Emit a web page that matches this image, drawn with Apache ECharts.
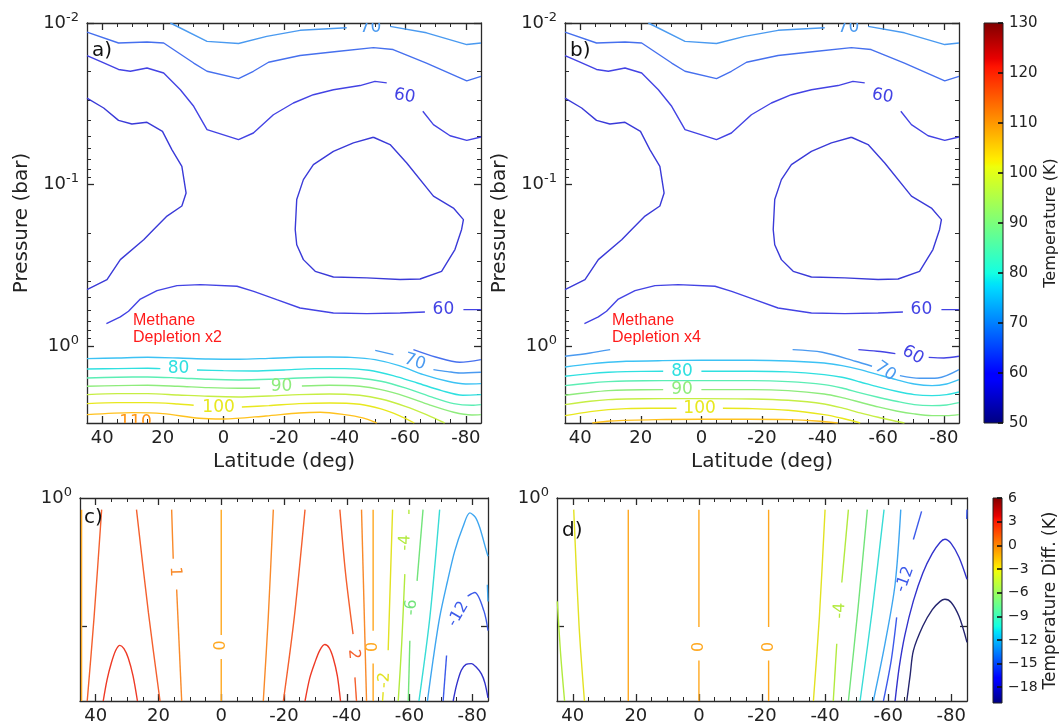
<!DOCTYPE html>
<html>
<head>
<meta charset="utf-8">
<script src="https://cdn.jsdelivr.net/npm/echarts@6/dist/echarts.min.js"></script>
<style>html,body{margin:0;padding:0;background:#fff}#main{width:1064px;height:725px}</style>
</head>
<body>
<div id="main"></div>
<script>
// ---------- axis ticks ----------
const latMajor = [40, 20, 0, -20, -40, -60, -80];
const latMinor = [45, 40, 35, 30, 25, 20, 15, 10, 5, 0, -5, -10, -15, -20, -25, -30, -35, -40, -45, -50, -55, -60, -65, -70, -75, -80, -85];
const presDecades = [0.01, 0.1, 1];
const presMinor = [0.02, 0.03, 0.04, 0.05, 0.06, 0.07, 0.08, 0.09, 0.2, 0.3, 0.4, 0.5, 0.6, 0.7, 0.8, 0.9, 2, 3];
const diffPresLabels = [1];
const diffPresTicks = [2];
const tempBarTicks = [50, 60, 70, 80, 90, 100, 110, 120, 130];
const diffBarTicks = [-18, -15, -12, -9, -6, -3, 0, 3, 6];
const tempRange = [50, 130];
const diffRange = [-20, 6];

// ---------- temperature contours (K), [latitude, pressure bar]; each contour = list of segments ----------
// upper atmosphere, identical in both depletion runs
const upper70 = [
  [[17.5, 0.0100], [5.4, 0.0130], [-5, 0.0134], [-14.3, 0.0121], [-25.3, 0.0111], [-40.7, 0.0107]],
  [[-55, 0.0105], [-67, 0.0115], [-80.3, 0.0136], [-85, 0.0133]]
];
const upper65 = [
  [[45, 0.0114], [34.6, 0.0133], [25.2, 0.0131], [19.7, 0.0133], [9.8, 0.0177], [5.4, 0.0199], [-5, 0.0221], [-9.9, 0.0199], [-14.9, 0.0175], [-25.3, 0.0159], [-37.4, 0.0150], [-49.5, 0.0142], [-56, 0.0146], [-67, 0.0177], [-80.3, 0.0228], [-85, 0.0214]]
];
const upper60 = [
  [[45, 0.0159], [40.6, 0.0173], [34.6, 0.0194], [30.7, 0.0199], [25.2, 0.0190], [19.7, 0.0204], [14.2, 0.0259], [9.8, 0.0328], [5.4, 0.0457], [-5, 0.0527], [-9.9, 0.0480], [-16.5, 0.0370], [-23.1, 0.0313], [-29.7, 0.0278], [-36.3, 0.0259], [-45.1, 0.0244], [-50, 0.0230], [-53.9, 0.0235]],
  [[-65.8, 0.0352], [-69.3, 0.0426], [-74.8, 0.0499], [-80.3, 0.0533], [-85, 0.0508]]
];
const left55 = [
  [[45, 0.0292], [39.5, 0.0336], [34.6, 0.0401], [30.2, 0.0422], [25.2, 0.0412], [20.1, 0.0469], [17, 0.0608], [13.7, 0.0773], [12.3, 0.113], [13.7, 0.136], [18.6, 0.157], [23, 0.190], [26.3, 0.220], [34, 0.292], [38.4, 0.388], [45, 0.448]]
];
const loop55 = [
  [[-49.5, 0.0510], [-55, 0.0566], [-60.5, 0.0736], [-69.3, 0.118], [-75.9, 0.140], [-79.2, 0.165], [-78.6, 0.190], [-76.4, 0.253], [-72, 0.345], [-64.9, 0.385], [-58.3, 0.388], [-47.3, 0.379], [-36.3, 0.374], [-30.3, 0.345], [-26.4, 0.292], [-24.2, 0.236], [-23.7, 0.190], [-24.2, 0.124], [-26.4, 0.0933], [-29.7, 0.0754], [-36.3, 0.0624], [-42.9, 0.0553], [-49.5, 0.0510]]
];
const lower60 = [
  [[38.6, 0.727], [34, 0.661], [31.3, 0.610], [27.4, 0.512], [21.9, 0.454], [15.3, 0.423], [7.6, 0.417], [-4.5, 0.427], [-10, 0.459], [-17.6, 0.517], [-25.3, 0.582], [-36.3, 0.625], [-47.3, 0.631], [-58.3, 0.625], [-66.5, 0.616]],
  [[-79.2, 0.596], [-85, 0.596]]
];

// lower atmosphere, methane depletion x2
const a65 = [[[-62.7, 1.054], [-70, 1.170], [-78, 1.262], [-85, 1.215]]];
const a70 = [[[-50.1, 1.064], [-56.1, 1.132]], [[-69.3, 1.401], [-74, 1.441], [-78, 1.470], [-85, 1.455]]];
const a75 = [[[45, 1.198], [35, 1.187], [25, 1.176], [15, 1.187], [5, 1.204], [-5, 1.209], [-15, 1.193], [-25, 1.176], [-35, 1.170], [-42, 1.176], [-50, 1.215], [-58, 1.323], [-66, 1.505], [-74, 1.655], [-80, 1.719], [-85, 1.711]]];
const a80 = [[[45, 1.388], [35, 1.381], [25, 1.375], [20.8, 1.381]], [[8.7, 1.408], [0, 1.421], [-10, 1.428], [-20, 1.408], [-30, 1.381], [-40, 1.381], [-48, 1.414], [-56, 1.526], [-64, 1.695], [-72, 1.891], [-79, 2.020], [-85, 2.001]]];
const a85 = [[[45, 1.578], [35, 1.563], [25, 1.556], [15, 1.578], [5, 1.609], [-5, 1.624], [-15, 1.609], [-25, 1.578], [-35, 1.563], [-45, 1.586], [-52, 1.655], [-60, 1.820], [-68, 2.050], [-76, 2.275], [-82, 2.330], [-85, 2.308]]];
const a90 = [[[45, 1.777], [35, 1.760], [25, 1.752], [15, 1.777], [5, 1.811], [-5, 1.828], [-12.1, 1.820]], [[-25.9, 1.769], [-35, 1.752], [-45, 1.777], [-52, 1.864], [-60, 2.050], [-68, 2.319], [-76, 2.574], [-82, 2.674], [-85, 2.662]]];
const a95 = [[[45, 2.001], [35, 1.973], [25, 1.973], [15, 2.011], [5, 2.050], [-5, 2.069], [-15, 2.040], [-25, 2.001], [-35, 1.983], [-45, 2.020], [-52, 2.129], [-60, 2.364], [-67, 2.662], [-73, 3.0]]];
const a100 = [[[45, 2.275], [35, 2.243], [25, 2.243], [15, 2.286], [9.8, 2.330]], [[-6.1, 2.386], [-15, 2.341], [-25, 2.275], [-35, 2.254], [-45, 2.297], [-52, 2.455], [-58, 2.700], [-63, 3.0]]];
const a105 = [[[45, 2.662], [30, 2.587], [20, 2.624], [8, 2.804], [0, 2.831], [-14, 2.713], [-25, 2.599], [-32, 2.574], [-40, 2.662], [-46, 2.791], [-50.6, 3.0]]];

// lower atmosphere, methane depletion x4
const b60 = [[[-51.8, 1.054], [-58, 1.079], [-64, 1.115]], [[-75, 1.176], [-80, 1.187], [-85, 1.159]]];
const b70 = [[[45, 1.159], [36.7, 1.105], [30.1, 1.054]], [[-30.1, 1.054], [-39.9, 1.094], [-50.8, 1.244], [-56.3, 1.336]], [[-65.5, 1.526], [-72, 1.586], [-78, 1.578], [-85, 1.401]]];
const b75 = [[[45, 1.349], [36.7, 1.292], [30.7, 1.262], [24.8, 1.244], [12.9, 1.233], [0, 1.227], [-16.8, 1.227], [-28.6, 1.239], [-40.5, 1.274], [-46.4, 1.323], [-52.4, 1.401], [-58.3, 1.505], [-64.3, 1.616], [-70.2, 1.719], [-76.1, 1.760], [-80.9, 1.719], [-85, 1.616]]];
const b80 = [[[45, 1.541], [36.7, 1.484], [30.7, 1.455], [24.8, 1.441], [12.6, 1.435]], [[0, 1.435], [-16.8, 1.435], [-28.6, 1.448], [-40.5, 1.505], [-46.4, 1.563], [-52.4, 1.671], [-58.3, 1.794], [-64.3, 1.909], [-70.2, 2.001], [-76.1, 2.030], [-80.9, 2.001], [-85, 1.927]]];
const b85 = [[[45, 1.760], [36.7, 1.695], [30.7, 1.663], [24.8, 1.647], [12.9, 1.640], [0, 1.640], [-16.8, 1.640], [-28.6, 1.663], [-40.5, 1.735], [-46.4, 1.820], [-52.4, 1.954], [-58.3, 2.079], [-64.3, 2.201], [-70.2, 2.308], [-76.1, 2.341], [-80.9, 2.319], [-85, 2.243]]];
const b90 = [[[45, 2.020], [36.7, 1.937], [30.7, 1.891], [24.8, 1.873], [12.6, 1.864]], [[0, 1.864], [-16.8, 1.864], [-28.6, 1.891], [-40.5, 1.983], [-46.4, 2.089], [-52.4, 2.232], [-58.3, 2.386], [-64.3, 2.526], [-70.2, 2.636], [-76.1, 2.700], [-80.9, 2.700], [-85, 2.662]]];
const b95 = [[[45, 2.308], [36.7, 2.201], [30.7, 2.149], [24.8, 2.129], [12.9, 2.119], [0, 2.119], [-16.8, 2.129], [-28.6, 2.170], [-40.5, 2.286], [-46.4, 2.420], [-52.4, 2.599], [-58.3, 2.765], [-64.3, 2.928], [-67, 3.0]]];
const b100 = [[[45, 2.700], [36.7, 2.550], [30.7, 2.479], [24.8, 2.443], [17, 2.432], [8.2, 2.432]], [[-7.1, 2.432], [-16.8, 2.443], [-28.6, 2.502], [-40.5, 2.662], [-46.4, 2.804], [-52.4, 3.0]]];
const b105 = [[[36, 3.0], [30, 2.913], [15, 2.858], [0, 2.845], [-15, 2.845], [-29, 2.858], [-38, 2.913], [-45, 3.0]]];

// contour labels: [latitude, pressure, text, rotation deg, level]
const sharedLabels = [[-48.5, 0.01065, '70', 0, 70], [-59.8, 0.0284, '60', -10, 60], [-72.6, 0.596, '60', 0, 60]];
const aLabels = [[-63.2, 1.256, '70', -18, 70], [14.8, 1.388, '80', 0, 80], [-19.2, 1.794, '90', 0, 90], [1.6, 2.40, '100', 0, 100], [29, 2.99, '110', 0, 110]];
const bLabels = [[-69.8, 1.137, '60', -30, 60], [-60.7, 1.435, '70', -35, 70], [6.4, 1.435, '80', 0, 80], [6.4, 1.855, '90', 0, 90], [0.6, 2.432, '100', 0, 100]];

// ---------- temperature difference contours (K), 1–3 bar ----------
const cE0 = [[[44.5, 1.065], [44.5, 3]]];
const cW2 = [[[38.1, 1.065], [40.5, 1.9], [42.7, 3]]];
const cW3 = [[[37.6, 3], [36.4, 2.68], [35, 2.44], [33.6, 2.28], [32.3, 2.22], [31, 2.26], [29.6, 2.38], [28.1, 2.62], [26.7, 3]]];
const cW2b = [[[27, 1.065], [23.2, 1.86], [19.5, 3]]];
const cW1 = [[[15.8, 1.065], [15.3, 1.39]], [[14.2, 1.64], [12.6, 3]]];
const cEq0 = [[[0, 1.065], [0, 2.10]], [[0, 2.39], [0, 3]]];
const cS1 = [[[-16.6, 1.065], [-15, 1.9], [-13.4, 3]]];
const cS2 = [[[-26.7, 1.065], [-23.3, 1.9], [-19.8, 3]]];
const cS3 = [[[-26.7, 3], [-28.2, 2.65], [-29.8, 2.44], [-31.4, 2.28], [-33, 2.21], [-34.4, 2.25], [-35.7, 2.38], [-37, 2.62], [-38, 3]]];
const cS2b = [[[-37.8, 1.065], [-39.6, 1.5], [-42, 2.09]], [[-42.6, 2.64], [-43.1, 3]]];
const cS1b = [[[-44.7, 1.065], [-46.3, 3]]];
const cS0 = [[[-48.4, 1.065], [-48.4, 2.05]], [[-48.4, 2.45], [-48.4, 3]]];
const cM2 = [[[-54.6, 1.065], [-53.2, 2.28]], [[-51.6, 2.86], [-51.4, 3]]];
const cM4 = [[[-59.8, 1.065], [-59.8, 1.09]], [[-58.5, 1.51], [-57.5, 2.2], [-56.4, 3]]];
const cM6 = [[[-64.3, 1.065], [-62.4, 1.566]], [[-60.1, 2.165], [-59.6, 3]]];
const cM8 = [[[-69.6, 1.065], [-66.5, 1.9], [-63, 3]]];
const cM10 = [[[-65.7, 3], [-67.5, 2.4], [-69.6, 1.908], [-72, 1.58], [-74.4, 1.333], [-77, 1.17], [-79.2, 1.084], [-81, 1.11], [-82.4, 1.175], [-84.5, 1.333], [-85, 1.37]], [[-84.8, 1.60], [-85, 1.75]]];
const cM12 = [[[-70.7, 3], [-71.8, 2.345]], [[-78.5, 1.70], [-80.8, 1.668], [-83.7, 1.842], [-85, 2.05]]];
const cM14 = [[[-73.9, 3], [-75, 2.75], [-76.5, 2.54], [-78, 2.46], [-79.7, 2.45], [-81.3, 2.5], [-82.9, 2.59], [-84, 2.72], [-85, 2.95]]];
const cLabels = [[14.7, 1.49, '1', -88, 1], [0, 2.22, '0', 90, 0], [-42.2, 2.33, '2', -85, 2], [-48.2, 2.24, '0', 90, 0], [-52, 2.68, '-2', 87, -2], [-58.6, 1.274, '-4', 88, -4], [-60.6, 1.808, '-6', 87, -6], [-75.5, 1.875, '-12', 60, -12]];

const dE4 = [[[44.9, 1.75], [43.9, 2.3], [42.6, 3]]];
const dE2 = [[[39.7, 1.065], [38, 2.0], [36.3, 3]]];
const dN0 = [[[22.4, 1.065], [22.4, 3]]];
const dEq0 = [[[0, 1.065], [0, 2.01]], [[0, 2.41], [0, 3]]];
const dS0 = [[[-22.1, 1.065], [-22.1, 2.01]], [[-22.1, 2.41], [-22.1, 3]]];
const dM2 = [[[-40, 1.065], [-38.2, 1.9], [-36.3, 3]]];
const dM4 = [[[-47.4, 1.065], [-45.3, 1.58]], [[-43.7, 2.2], [-42.6, 3]]];
const dM6 = [[[-53.4, 1.065], [-50.5, 1.8], [-47.4, 3]]];
const dM8 = [[[-58.7, 1.065], [-55.1, 1.8], [-51.1, 3]]];
const dM10 = [[[-64, 1.065], [-62.2, 1.595], [-59, 2.2], [-55.3, 3]]];
const dM12 = [[[-70.6, 1.075], [-68, 1.252]], [[-62.7, 1.908], [-61, 2.4], [-58.5, 3]], [[-85, 1.065], [-84.9, 1.12]]];
const dM14 = [[[-62.2, 3], [-63.5, 2.5], [-65.3, 2.1], [-68, 1.745], [-71, 1.5], [-74, 1.35], [-76.5, 1.27], [-78, 1.25], [-80, 1.28], [-82.5, 1.38], [-85, 1.553]]];
const dM16 = [[[-65.9, 3], [-67, 2.6], [-68, 2.284], [-71, 2.0], [-74, 1.83], [-76.5, 1.75], [-78, 1.73], [-80, 1.76], [-82.5, 1.9], [-85, 2.184]]];
const dLabels = [[0, 2.24, '0', 90, 0], [-22.1, 2.24, '0', 90, 0], [-44.7, 1.84, '-4', 88, -4], [-65.3, 1.553, '-12', 70, -12]];

// ---------- line colours per level ----------
const tempColors = {55: '#3a3ad8', 60: '#4343e4', 65: '#4670ee', 70: '#4a9af0', 75: '#3cc2f4', 80: '#2fe0e0', 85: '#5ceeb4', 90: '#8eec7c', 95: '#c6ee44', 100: '#e8e81e', 105: '#ffc21e', 110: '#ff9414'};
const diffColors = {3: '#ee3a26', 2: '#f4602e', 1: '#f98a2a', 0: '#ffa820', '-2': '#e2e222', '-4': '#b2ea3e', '-6': '#72e47a', '-8': '#38dcd6', '-10': '#3ea6f0', '-12': '#3c5aea', '-14': '#3232cc', '-16': '#25256e'};

const jetStops = [
  {offset: 0, color: '#800000'}, {offset: 0.09, color: '#e80000'}, {offset: 0.11, color: '#ff1300'},
  {offset: 0.34, color: '#ffec00'}, {offset: 0.35, color: '#f7f500'}, {offset: 0.36, color: '#eeff0c'},
  {offset: 0.5, color: '#7bff7b'}, {offset: 0.625, color: '#14ffe2'}, {offset: 0.65, color: '#00e6f7'},
  {offset: 0.66, color: '#00dbff'}, {offset: 0.875, color: '#0000ff'}, {offset: 0.89, color: '#0000ff'},
  {offset: 1, color: '#000080'}
];

// ---------- builders ----------
const AX = '#2a2a2a';
const FONT = 'DejaVu Sans';
const xAxes = [], yAxes = [], series = [];

function addLatAxes(gi, withName) {
  const idx = xAxes.length;
  const base = {gridIndex: gi, type: 'value', min: -85, max: 45, inverse: true, splitLine: {show: false}};
  const major = {show: true, inside: true, length: 7, customValues: latMajor, lineStyle: {color: AX, width: 1.3}};
  const minor = {show: true, inside: true, length: 4, customValues: latMinor, lineStyle: {color: AX, width: 1}};
  xAxes.push(Object.assign({}, base, {
    position: 'bottom',
    axisLine: {show: true, onZero: false, lineStyle: {color: AX, width: 1.3}},
    axisTick: major,
    axisLabel: {show: true, customValues: latMajor, margin: 6, fontSize: 18, fontFamily: FONT, color: '#222'},
    name: withName ? 'Latitude (deg)' : '', nameLocation: 'middle', nameGap: 27,
    nameTextStyle: {fontSize: 20, fontFamily: FONT, color: '#222'}
  }));
  xAxes.push(Object.assign({}, base, {position: 'bottom', axisLine: {show: false, onZero: false}, axisTick: minor, axisLabel: {show: false}}));
  xAxes.push(Object.assign({}, base, {position: 'top', axisLine: {show: true, onZero: false, lineStyle: {color: AX, width: 1.3}}, axisTick: major, axisLabel: {show: false}}));
  xAxes.push(Object.assign({}, base, {position: 'top', axisLine: {show: false, onZero: false}, axisTick: minor, axisLabel: {show: false}}));
  return idx;
}

function addPresAxes(gi, pMin, pMax, labelVals, majorVals, minorVals, withName) {
  const idx = yAxes.length;
  const base = {gridIndex: gi, type: 'log', logBase: 10, min: pMin, max: pMax, inverse: true, splitLine: {show: false}, minorTick: {show: false}};
  const major = {show: true, inside: true, length: 7, customValues: majorVals, lineStyle: {color: AX, width: 1.3}};
  const minor = {show: true, inside: true, length: 4, customValues: minorVals, lineStyle: {color: AX, width: 1}};
  yAxes.push(Object.assign({}, base, {
    position: 'left',
    axisLine: {show: true, onZero: false, lineStyle: {color: AX, width: 1.3}},
    axisTick: major,
    axisLabel: {
      show: true, customValues: labelVals, margin: 8,
      formatter: v => '{b|10}{s|' + Math.round(Math.log10(v)) + '}',
      rich: {
        b: {fontSize: 18, fontFamily: FONT, color: '#222'},
        s: {fontSize: 13, fontFamily: FONT, color: '#222', padding: [0, 0, 11, 0]}
      }
    },
    name: withName ? 'Pressure (bar)' : '', nameLocation: 'middle', nameGap: 55, nameRotate: 90,
    nameTextStyle: {fontSize: 20, fontFamily: FONT, color: '#222'}
  }));
  yAxes.push(Object.assign({}, base, {position: 'left', axisLine: {show: false, onZero: false}, axisTick: minor, axisLabel: {show: false}}));
  yAxes.push(Object.assign({}, base, {position: 'right', axisLine: {show: true, onZero: false, lineStyle: {color: AX, width: 1.3}}, axisTick: major, axisLabel: {show: false}}));
  yAxes.push(Object.assign({}, base, {position: 'right', axisLine: {show: false, onZero: false}, axisTick: minor, axisLabel: {show: false}}));
  return idx;
}

function addContours(xi, yi, lines, colors, smooth) {
  lines.forEach(([lev, segs]) => {
    segs.forEach(seg => {
      series.push({
        type: 'line', xAxisIndex: xi, yAxisIndex: yi, data: seg, symbol: 'none', showSymbol: false,
        smooth: smooth, silent: true, z: 3,
        lineStyle: {color: colors[lev], width: 1.4}
      });
    });
  });
}

function addLabels(xi, yi, labels, colors, size) {
  series.push({
    type: 'custom', xAxisIndex: xi, yAxisIndex: yi, clip: true, silent: true, z: 5,
    data: labels.map(l => [l[0], l[1]]), encode: {x: 0, y: 1},
    renderItem: (params, api) => {
      const l = labels[params.dataIndex];
      const pt = api.coord([l[0], l[1]]);
      return {
        type: 'text', x: pt[0], y: pt[1], rotation: l[3] * Math.PI / 180,
        style: {text: l[2], fill: colors[l[4]], font: size + 'px "DejaVu Sans"', align: 'center', verticalAlign: 'middle'}
      };
    }
  });
}

function addColorbar(gi, range, ticks, fmt, name, nameGap, labelSize, nameSize) {
  const xi = xAxes.length;
  xAxes.push({gridIndex: gi, type: 'value', min: 0, max: 1, show: false});
  const yi = yAxes.length;
  yAxes.push({
    gridIndex: gi, type: 'value', min: range[0], max: range[1], position: 'right', z: 6,
    axisLine: {show: false, onZero: false},
    axisTick: {show: true, inside: true, length: 5, customValues: ticks, lineStyle: {color: '#111', width: 1.6}},
    axisLabel: {show: true, customValues: ticks, formatter: fmt, margin: 6, fontSize: labelSize, fontFamily: FONT, color: '#222'},
    splitLine: {show: false},
    name: name, nameLocation: 'middle', nameRotate: 90, nameGap: nameGap,
    nameTextStyle: {fontSize: nameSize, fontFamily: FONT, color: '#222'}
  });
  series.push({
    type: 'custom', xAxisIndex: xi, yAxisIndex: yi, silent: true, z: 1,
    data: [[0, range[0], 1, range[1]]], encode: {x: [0, 2], y: [1, 3]},
    renderItem: (params, api) => {
      const a = api.coord([api.value(0), api.value(3)]);
      const b = api.coord([api.value(2), api.value(1)]);
      return {
        type: 'rect', shape: {x: a[0], y: a[1], width: b[0] - a[0], height: b[1] - a[1]},
        style: {fill: new echarts.graphic.LinearGradient(0, 0, 0, 1, jetStops), stroke: '#222', lineWidth: 1}
      };
    }
  });
}

// ---------- panels ----------
const grids = [
  {left: 87, top: 23, width: 394, height: 400},
  {left: 565, top: 23, width: 394, height: 400},
  {left: 984, top: 23, width: 19, height: 400},
  {left: 80, top: 498, width: 408, height: 205},
  {left: 557, top: 498, width: 410, height: 205},
  {left: 993, top: 498, width: 9, height: 205}
];

const upperLines = [[70, upper70], [65, upper65], [60, upper60], [55, left55], [55, loop55], [60, lower60]];
const aLines = [[65, a65], [70, a70], [75, a75], [80, a80], [85, a85], [90, a90], [95, a95], [100, a100], [105, a105]];
const bLines = [[60, b60], [70, b70], [75, b75], [80, b80], [85, b85], [90, b90], [95, b95], [100, b100], [105, b105]];
const cLines = [[0, cE0], [2, cW2], [3, cW3], [2, cW2b], [1, cW1], [0, cEq0], [1, cS1], [2, cS2], [3, cS3], [2, cS2b], [1, cS1b], [0, cS0], [-2, cM2], [-4, cM4], [-6, cM6], [-8, cM8], [-10, cM10], [-12, cM12], [-14, cM14]];
const dLines = [[-4, dE4], [-2, dE2], [0, dN0], [0, dEq0], [0, dS0], [-2, dM2], [-4, dM4], [-6, dM6], [-8, dM8], [-10, dM10], [-12, dM12], [-14, dM14], [-16, dM16]];

// a)
let xi = addLatAxes(0, true), yi = addPresAxes(0, 0.01, 3, presDecades, presDecades, presMinor, true);
addContours(xi, yi, upperLines, tempColors, false);
addContours(xi, yi, aLines, tempColors, 0.3);
addLabels(xi, yi, sharedLabels.concat(aLabels), tempColors, 17);
// b)
xi = addLatAxes(1, true); yi = addPresAxes(1, 0.01, 3, presDecades, presDecades, presMinor, true);
addContours(xi, yi, upperLines, tempColors, false);
addContours(xi, yi, bLines, tempColors, 0.3);
addLabels(xi, yi, sharedLabels.concat(bLabels), tempColors, 17);
// temperature colour bar
addColorbar(2, tempRange, tempBarTicks, v => String(v), 'Temperature (K)', 40, 15, 16);
// c)
xi = addLatAxes(3, false); yi = addPresAxes(3, 1, 3, diffPresLabels, diffPresTicks, [], false);
addContours(xi, yi, cLines, diffColors, 0.3);
addLabels(xi, yi, cLabels, diffColors, 16);
// d)
xi = addLatAxes(4, false); yi = addPresAxes(4, 1, 3, diffPresLabels, diffPresTicks, [], false);
addContours(xi, yi, dLines, diffColors, 0.3);
addLabels(xi, yi, dLabels, diffColors, 16);
// difference colour bar
addColorbar(5, diffRange, diffBarTicks, v => String(v).replace('-', '\u2212'), 'Temperature Diff. (K)', 40, 14, 17);

const panelText = {fontWeight: 'normal', fontFamily: FONT, color: '#111', fontSize: 20};
const noteText = {fontWeight: 'normal', fontFamily: 'Liberation Sans', color: '#ff1a1a', fontSize: 16, lineHeight: 17};

const chart = echarts.init(document.getElementById('main'), null, {renderer: 'canvas'});
chart.setOption({
  animation: false,
  backgroundColor: '#ffffff',
  title: [
    {text: 'a)', left: 92, top: 41, padding: 0, textStyle: panelText},
    {text: 'b)', left: 570, top: 41, padding: 0, textStyle: panelText},
    {text: 'c)', left: 84, top: 508, padding: 0, textStyle: panelText},
    {text: 'd)', left: 562, top: 521, padding: 0, textStyle: panelText},
    {text: 'Methane\nDepletion x2', left: 133, top: 312, padding: 0, textStyle: noteText},
    {text: 'Methane\nDepletion x4', left: 612, top: 312, padding: 0, textStyle: noteText}
  ],
  grid: grids,
  xAxis: xAxes,
  yAxis: yAxes,
  series: series
});
</script>
</body>
</html>
